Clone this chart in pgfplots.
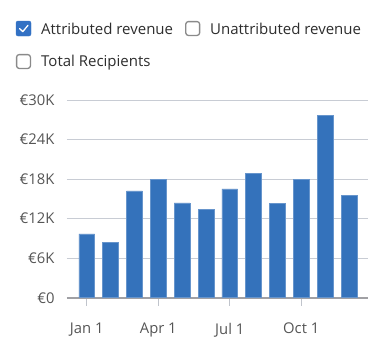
\documentclass[border=0pt]{standalone}
\usepackage{pgfplots}
\pgfplotsset{compat=1.18}
\usepackage{fontspec}
\setmainfont{Open Sans}
\definecolor{barblue}{RGB}{52,114,187}
\definecolor{boxblue}{RGB}{50,113,196}
\definecolor{gridc}{RGB}{200,204,212}
\definecolor{axisc}{RGB}{160,160,164}
\definecolor{tickc}{RGB}{192,196,204}
\definecolor{labc}{RGB}{85,85,85}
\definecolor{legc}{RGB}{45,45,45}
\definecolor{boxgray}{RGB}{138,138,138}
\begin{document}
\begin{tikzpicture}
\path[use as bounding box] (0pt,0pt) rectangle (389pt,-360pt);
% legend (decoration)
\draw[boxblue, fill=boxblue, rounded corners=2pt] (16pt,-21pt) rectangle (31pt,-36pt);
\draw[white, line width=1.3pt, line cap=round, line join=round] (19.5pt,-28.5pt) -- (22.8pt,-31.6pt) -- (28pt,-25.3pt);
\node[anchor=base west, inner sep=0pt, text=legc, font=\fontsize{15}{17}\selectfont] at (41pt,-34pt) {Attributed revenue};
\draw[boxgray, fill=white, line width=1.3pt, rounded corners=2.5pt] (185.8pt,-21.6pt) rectangle (199.6pt,-35.4pt);
\node[anchor=base west, inner sep=0pt, text=legc, font=\fontsize{15}{17}\selectfont] at (210pt,-34pt) {Unattributed revenue};
\draw[boxgray, fill=white, line width=1.3pt, rounded corners=2.5pt] (16.6pt,-54.6pt) rectangle (30.4pt,-68.4pt);
\node[anchor=base west, inner sep=0pt, text=legc, font=\fontsize{15}{17}\selectfont] at (41pt,-66.5pt) {Total Recipients};
\begin{axis}[
  at={(67pt,-297.7pt)}, anchor=south west,
  scale only axis, width=301pt, height=197.7pt,
  xmin=-0.83, xmax=11.8, ymin=0, ymax=30000,
  axis x line*=bottom, axis y line*=left,
  y axis line style={draw=none},
  x axis line style={draw=axisc, line width=1.6pt},
  ytick={0,6000,12000,18000,24000,30000},
  yticklabels={€0,€6K,€12K,€18K,€24K,€30K},
  xtick={0,3,6,9},
  xticklabels={Jan 1,Apr 1,Jul 1,Oct 1},
  ymajorgrids, grid style={draw=gridc, line width=0.9pt},
  tick align=outside, major tick length=8pt,
  xtick style={draw=tickc, line width=0.9pt},
  ytick style={draw=none},
  ticklabel style={text=labc, font=\fontsize{14.8}{17}\selectfont},
  yticklabel style={xshift=-1pt},
  xticklabel style={yshift=-14pt},
  scaled y ticks=false,
  clip=false,
]
\addplot[ybar, bar width=0.66, fill=barblue, draw=barblue!75!white, line width=0.5pt] coordinates {
(0,9670) (1,8400) (2,16200) (3,17900) (4,14400) (5,13400)
(6,16500) (7,18900) (8,14300) (9,17900) (10,27700) (11,15500)
};
\end{axis}
\end{tikzpicture}
\end{document}
